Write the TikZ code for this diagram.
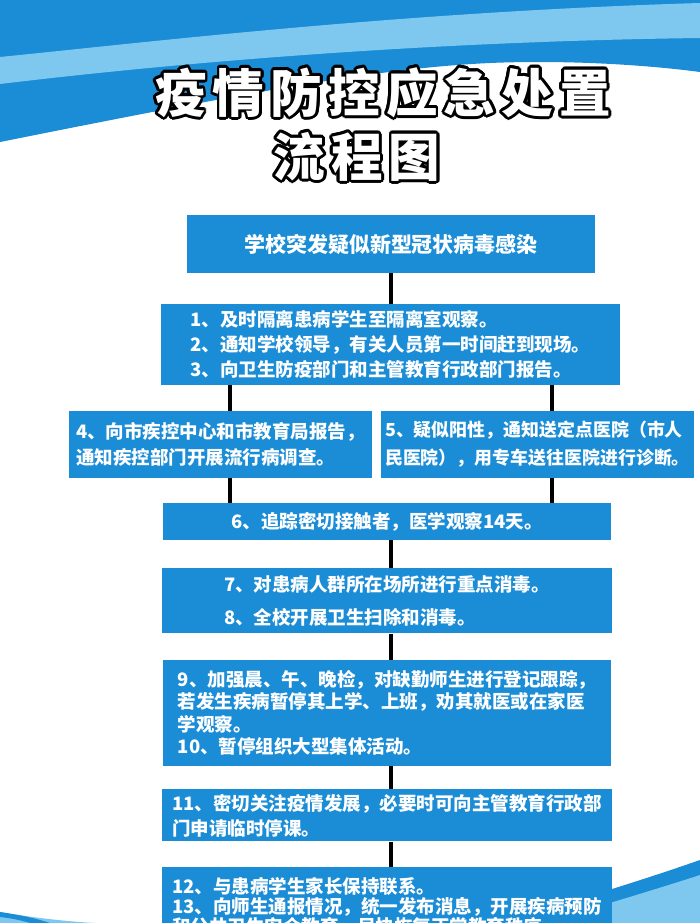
\documentclass[tikz,border=0pt]{standalone}
\usepackage{fontspec}
\usepackage{contour}
\usetikzlibrary{positioning}

\newfontfamily\cjk{Noto Sans CJK SC}
\definecolor{boxblue}{RGB}{27,140,214}
\definecolor{wavelight}{RGB}{126,200,240}
\newcommand{\fs}[2]{\fontsize{#1}{#2}\selectfont}
\contourlength{2.4pt}

\begin{document}
\begin{tikzpicture}[
    x=0.03cm, y=-0.03cm,
    stepbox/.style={fill=boxblue, text=white, inner sep=0pt, align=left, font=\cjk\bfseries\fs{15.8}{#1}},
    link/.style={line width=3pt, black},
    title/.style={text=white, inner sep=0pt, font=\cjk\bfseries\addfontfeature{LetterSpace=12}\fs{44}{50}}
]
\clip (0,0) rectangle (700,923);
\fill[white] (0,0) rectangle (700,923);

% Background waves
\fill[boxblue] (0,0) -- (700,0) -- (700,72) .. controls (640,64) and (560,60) .. (490,63)
    .. controls (380,68) and (250,92) .. (0,142) -- cycle;
\fill[wavelight] (0,57) .. controls (150,42) and (400,12) .. (700,3) -- (700,38)
    .. controls (400,42) and (150,66) .. (0,84) -- cycle;
\fill[boxblue] (560,905) .. controls (610,890) and (660,874) .. (700,860) -- (700,923) -- (560,923) -- cycle;
\fill[wavelight] (560,918) .. controls (610,903) and (660,888) .. (700,875) -- (700,923) -- (560,923) -- cycle;
\fill[wavelight] (0,912) .. controls (30,917) and (60,921) .. (95,923) -- (0,923) -- cycle;
\fill[boxblue] (0,912) .. controls (20,915) and (35,918) .. (50,923) -- (30,923) .. controls (20,920) and (10,918) .. (0,917) -- cycle;

% Title
\node[title] (t1) at (383,94) {\contour{black}{疫情防控应急处置}};
\node[title] (t2) at (357,158) {\contour{black}{流程图}};

% Boxes
\node[stepbox=20, font=\cjk\bfseries\fs{17.9}{20}, minimum width=12.24cm, minimum height=1.74cm] (b1) at (391,244)
    {学校突发疑似新型冠状病毒感染};
\node[stepbox=21.3, minimum width=13.77cm, minimum height=2.43cm] (b2) at (390.5,344.5)
    {1、及时隔离患病学生至隔离室观察。\\2、通知学校领导，有关人员第一时间赶到现场。\\3、向卫生防疫部门和主管教育行政部门报告。};
\node[stepbox=22.2, minimum width=9.09cm, minimum height=2.01cm] (b4) at (220.5,444.5)
    {4、向市疾控中心和市教育局报告，\\通知疾控部门开展流行病调查。};
\node[stepbox=23.9, font=\cjk\bfseries\fs{15.3}{24}, minimum width=9.39cm, minimum height=2.01cm] (b5) at (537.5,444.5)
    {5、疑似阳性，通知送定点医院（市人\\民医院），用专车送往医院进行诊断。};
\node[stepbox=20, minimum width=13.44cm, minimum height=1.11cm] (b6) at (387,521.5)
    {6、追踪密切接触者，医学观察14天。};
\node[stepbox=28.2, minimum width=13.47cm, minimum height=1.95cm, below=0.84cm of b6] (b7)
    {7、对患病人群所在场所进行重点消毒。\\8、全校开展卫生扫除和消毒。};
\node[stepbox=19.2, minimum width=13.44cm, minimum height=3.18cm, below=0.78cm of b7] (b9)
    {9、加强晨、午、晚检，对缺勤师生进行登记跟踪，\\若发生疾病暂停其上学、上班，劝其就医或在家医\\学观察。\\10、暂停组织大型集体活动。};
\node[stepbox=21.3, minimum width=13.47cm, minimum height=1.56cm, below=0.69cm of b9] (b11)
    {11、密切关注疫情发展，必要时可向主管教育行政部\\门申请临时停课。};
\node[stepbox=17.1, minimum width=13.47cm, minimum height=2.4cm, below=0.75cm of b11] (b12)
    {12、与患病学生家长保持联系。\\13、向师生通报情况，统一发布消息，开展疾病预防\\和公共卫生安全教育，尽快恢复正常教育秩序。};

% Connectors
\coordinate (lx) at (230,0);
\coordinate (rx) at (552,0);
\coordinate (cx) at (391,0);
\draw[link] (b1.south) -- (b2.north -| b1.south);
\draw[link] (b2.south -| lx) -- (b4.north -| lx);
\draw[link] (b2.south -| rx) -- (b5.north -| rx);
\draw[link] (b4.south -| lx) -- (b6.north -| lx);
\draw[link] (b5.south -| rx) -- (b6.north -| rx);
\draw[link] (b6.south -| cx) -- (b7.north -| cx);
\draw[link] (b7.south -| cx) -- (b9.north -| cx);
\draw[link] (b9.south -| cx) -- (b11.north -| cx);
\draw[link] (b11.south -| cx) -- (b12.north -| cx);
\end{tikzpicture}
\end{document}
